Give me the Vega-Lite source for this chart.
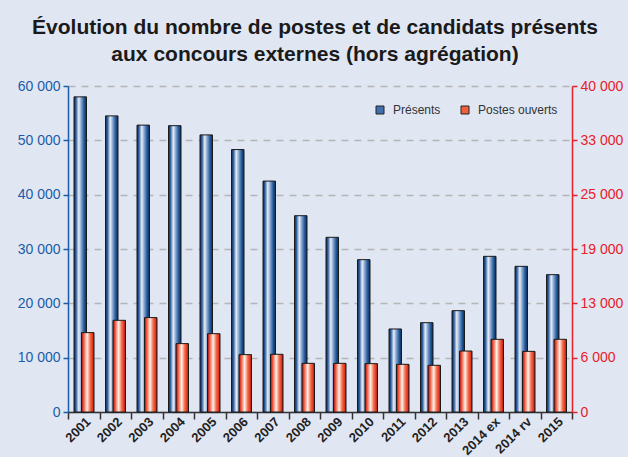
{
  "$schema": "https://vega.github.io/schema/vega-lite/v6.json",
  "width": 504,
  "height": 326,
  "autosize": {"type": "none"},
  "padding": {"left": 68, "top": 86, "right": 56, "bottom": 45},
  "background": "#E1E6F3",
  "title": {
    "text": ["Évolution du nombre de postes et de candidats présents", "aux concours externes (hors agrégation)"],
    "font": "Liberation Sans",
    "fontSize": 21,
    "fontWeight": "bold",
    "color": "#1a1a1a",
    "lineHeight": 27,
    "anchor": "middle",
    "offset": 14,
    "dx": -5
  },
  "config": {
    "locale": {"number": {"decimal": ",", "thousands": " ", "grouping": [3], "currency": ["", " €"]}},
    "view": {"stroke": null},
    "font": "Liberation Sans"
  },
  "data": {
    "values": [
      {"annee": "2001", "presents": 58000, "postes": 9740},
      {"annee": "2002", "presents": 54500, "postes": 11250},
      {"annee": "2003", "presents": 52800, "postes": 11580},
      {"annee": "2004", "presents": 52700, "postes": 8390},
      {"annee": "2005", "presents": 51000, "postes": 9610},
      {"annee": "2006", "presents": 48300, "postes": 7040},
      {"annee": "2007", "presents": 42500, "postes": 7080},
      {"annee": "2008", "presents": 36130, "postes": 5970},
      {"annee": "2009", "presents": 32150, "postes": 5970},
      {"annee": "2010", "presents": 28040, "postes": 5930},
      {"annee": "2011", "presents": 15280, "postes": 5850},
      {"annee": "2012", "presents": 16440, "postes": 5730},
      {"annee": "2013", "presents": 18650, "postes": 7480},
      {"annee": "2014 ex", "presents": 28650, "postes": 8920},
      {"annee": "2014 rv", "presents": 26810, "postes": 7440},
      {"annee": "2015", "presents": 25280, "postes": 8920}
    ]
  },
  "encoding": {
    "x": {
      "field": "annee",
      "type": "nominal",
      "sort": null,
      "scale": {"paddingInner": 0, "paddingOuter": 0},
      "axis": {
        "title": null,
        "labelAngle": -45,
        "labelAlign": "right",
        "labelBaseline": "top",
        "labelFontSize": 13,
        "labelFontWeight": "bold",
        "labelColor": "#222222",
        "labelPadding": -4,
        "domainColor": "#333333",
        "domainWidth": 1.5,
        "tickColor": "#333333",
        "tickWidth": 1.5,
        "tickSize": 7,
        "tickBand": "extent"
      }
    }
  },
  "layer": [
    {
      "mark": {
        "type": "bar", "width": 12.5, "xOffset": -3.5, "stroke": "#1a1a1a", "strokeWidth": 1,
        "fill": {"gradient": "linear", "x1": 0, "y1": 0, "x2": 1, "y2": 0, "stops": [
          {"offset": 0, "color": "#0c2c58"},
          {"offset": 0.15, "color": "#2a5c9c"},
          {"offset": 0.38, "color": "#e8eef8"},
          {"offset": 0.6, "color": "#7a9cc9"},
          {"offset": 0.82, "color": "#1f5596"},
          {"offset": 1, "color": "#0c2c58"}
        ]}
      },
      "encoding": {
        "y": {
          "field": "presents",
          "type": "quantitative",
          "scale": {"domain": [0, 60000]},
          "axis": {
            "title": null,
            "values": [0, 10000, 20000, 30000, 40000, 50000, 60000],
            "format": ",d",
            "grid": true,
            "gridDash": [7, 6],
            "gridColor": "#b5b5b5",
            "gridWidth": 1.5,
            "domainColor": "#1a5ca8",
            "domainWidth": 1.5,
            "tickColor": "#1a5ca8",
            "tickWidth": 1.5,
            "tickSize": 5,
            "labelColor": "#1a5ca8",
            "labelFontSize": 14,
            "labelPadding": 3
          }
        }
      }
    },
    {
      "mark": {
        "type": "bar", "width": 12.5, "xOffset": 4, "stroke": "#1a1a1a", "strokeWidth": 1,
        "fill": {"gradient": "linear", "x1": 0, "y1": 0, "x2": 1, "y2": 0, "stops": [
          {"offset": 0, "color": "#8e1414"},
          {"offset": 0.15, "color": "#ee4a30"},
          {"offset": 0.45, "color": "#fff2e8"},
          {"offset": 0.7, "color": "#f46a4c"},
          {"offset": 0.88, "color": "#e2361e"},
          {"offset": 1, "color": "#8e1414"}
        ]}
      },
      "encoding": {
        "y": {
          "field": "postes",
          "type": "quantitative",
          "scale": {"domain": [0, 40000]},
          "axis": {
            "orient": "right",
            "title": null,
            "values": [0, 6666.667, 13333.333, 20000, 26666.667, 33333.333, 40000],
            "labelExpr": "['0','6 000','13 000','19 000','25 000','33 000','40 000'][round(datum.value / 6666.667)]",
            "grid": false,
            "domainColor": "#e8202a",
            "domainWidth": 1.5,
            "tickColor": "#e8202a",
            "tickWidth": 1.5,
            "tickSize": 5,
            "labelColor": "#e8202a",
            "labelFontSize": 14,
            "labelPadding": 3
          }
        }
      }
    },
    {
      "mark": {"type": "bar"},
      "encoding": {
        "y": {"datum": 0, "type": "quantitative", "scale": {"domain": [0, 1]}, "axis": null},
        "y2": {"datum": 0},
        "color": {
          "datum": "Présents",
          "type": "nominal",
          "scale": {"domain": ["Présents", "Postes ouverts"], "range": ["#3f6fad", "#f0603f"]},
          "legend": {
            "orient": "none",
            "legendX": 306,
            "legendY": 18,
            "direction": "horizontal",
            "title": null,
            "symbolType": "square",
            "symbolSize": 64,
            "symbolStrokeColor": "#222222",
            "symbolStrokeWidth": 1,
            "labelFontSize": 12,
            "labelColor": "#333333",
            "labelOffset": 7,
            "columnPadding": 18
          }
        }
      }
    }
  ],
  "resolve": {"scale": {"y": "independent"}}
}
